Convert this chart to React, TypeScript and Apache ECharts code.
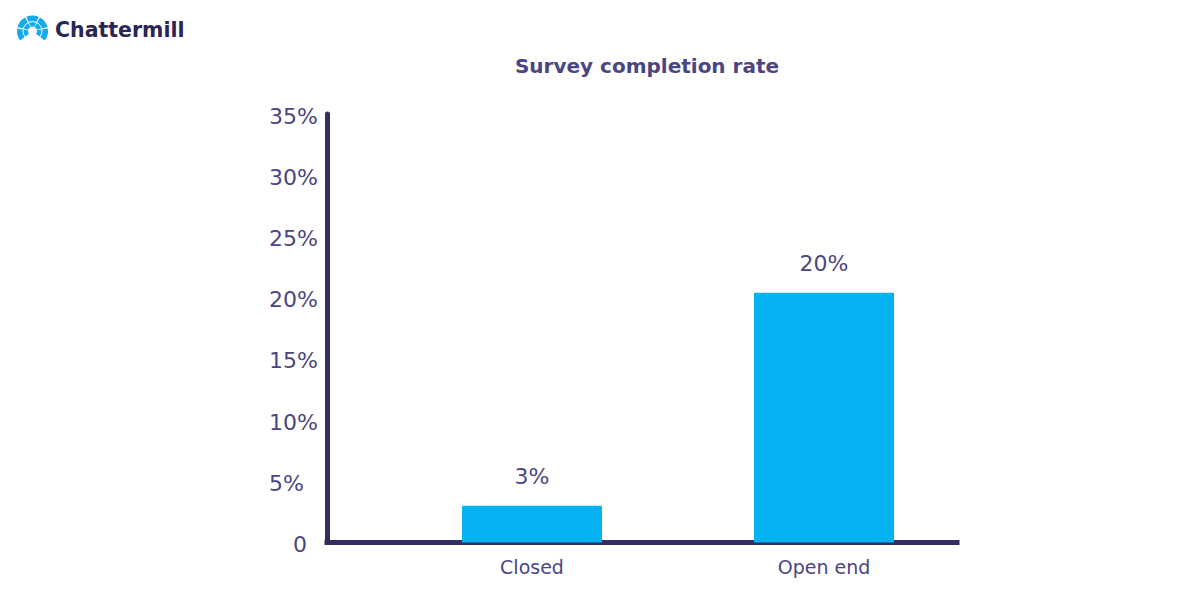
import React, { useEffect, useRef } from "react";
import * as echarts from "echarts";

const categories = ["Closed", "Open end"];
const completionRate = [3, 20.4];
const yMin = 0;
const yMax = 35;
const yStep = 5;

const FONT = "'DejaVu Sans', 'Open Sans', sans-serif";
const LABEL_COLOR = "#4b4683";
const AXIS_COLOR = "#342e60";
const BAR_COLOR = "#05b3f2";
const LOGO_BLUE = "#14aaf0";

function logoSectors() {
  const cx = 32.5;
  const cy = 31;
  const start = (140 * Math.PI) / 180;
  const end = (400 * Math.PI) / 180;
  const n = 5;
  const gap = 0.09;
  const span = (end - start) / n;
  const out: any[] = [];
  for (let i = 0; i < n; i++) {
    out.push({
      type: "sector",
      shape: {
        cx,
        cy,
        r: 15.5,
        r0: 4.5,
        startAngle: start + i * span + gap / 2,
        endAngle: start + (i + 1) * span - gap / 2,
        clockwise: true,
      },
      style: { fill: LOGO_BLUE },
    });
  }
  out.push({
    type: "arc",
    shape: { cx, cy, r: 9.5, startAngle: start, endAngle: end, clockwise: true },
    style: { stroke: "#ffffff", lineWidth: 1, fill: "none" },
  });
  return out;
}

export default function App() {
  const ref = useRef<HTMLDivElement>(null);
  useEffect(() => {
    document.body.style.margin = "0";
    if (!ref.current) return;
    const chart = echarts.init(ref.current, null, { renderer: "svg" });
    chart.setOption({
      animation: false,
      backgroundColor: "#ffffff",
      grid: [
        { left: 327, right: 243, top: 114, bottom: 57.5 },
        { left: 386, right: 230, top: 114, bottom: 57.5 },
      ],
      xAxis: [
        {
          gridIndex: 0,
          type: "category",
          data: [""],
          axisLine: { show: true, lineStyle: { color: AXIS_COLOR, width: 5, cap: "square" } },
          axisTick: { show: false },
          axisLabel: { show: false },
          splitLine: { show: false },
        },
        {
          gridIndex: 1,
          type: "category",
          data: categories,
          axisLine: { show: false },
          axisTick: { show: false },
          axisLabel: { fontSize: 19, color: LABEL_COLOR, fontFamily: FONT, margin: 15 },
        },
      ],
      yAxis: [
        {
          gridIndex: 0,
          type: "value",
          min: yMin,
          max: yMax,
          interval: yStep,
          axisLine: { show: true, lineStyle: { color: AXIS_COLOR, width: 5 } },
          axisTick: { show: false },
          splitLine: { show: false },
          axisLabel: {
            formatter: (v: number) => (v === 0 ? "{z|0}" : v + "%"),
            align: "left",
            margin: 58,
            padding: [4, 0, 0, 0],
            fontSize: 22,
            color: LABEL_COLOR,
            fontFamily: FONT,
            rich: {
              z: { padding: [0, 0, 0, 24], fontSize: 22, color: LABEL_COLOR, fontFamily: FONT },
            },
          },
        },
        {
          gridIndex: 1,
          type: "value",
          min: yMin,
          max: yMax,
          show: false,
        },
      ],
      series: [
        {
          type: "bar",
          xAxisIndex: 1,
          yAxisIndex: 1,
          data: completionRate,
          barWidth: 140,
          itemStyle: { color: BAR_COLOR },
          label: {
            show: true,
            position: "top",
            distance: 18,
            formatter: (p: any) => Math.round(p.value) + "%",
            fontSize: 22,
            color: LABEL_COLOR,
            fontFamily: FONT,
          },
        },
      ],
      graphic: [
        ...logoSectors(),
        {
          type: "text",
          x: 55,
          y: 30,
          style: {
            text: "Chattermill",
            font: "bold 20.5px " + FONT,
            fill: "#2a2553",
            verticalAlign: "middle",
            align: "left",
          },
        },
        {
          type: "text",
          x: 647,
          y: 66,
          style: {
            text: "Survey completion rate",
            font: "bold 20px " + FONT,
            fill: LABEL_COLOR,
            verticalAlign: "middle",
            align: "center",
          },
        },
      ],
    });
    return () => chart.dispose();
  }, []);
  return <div ref={ref} style={{ width: 1200, height: 600 }} />;
}
